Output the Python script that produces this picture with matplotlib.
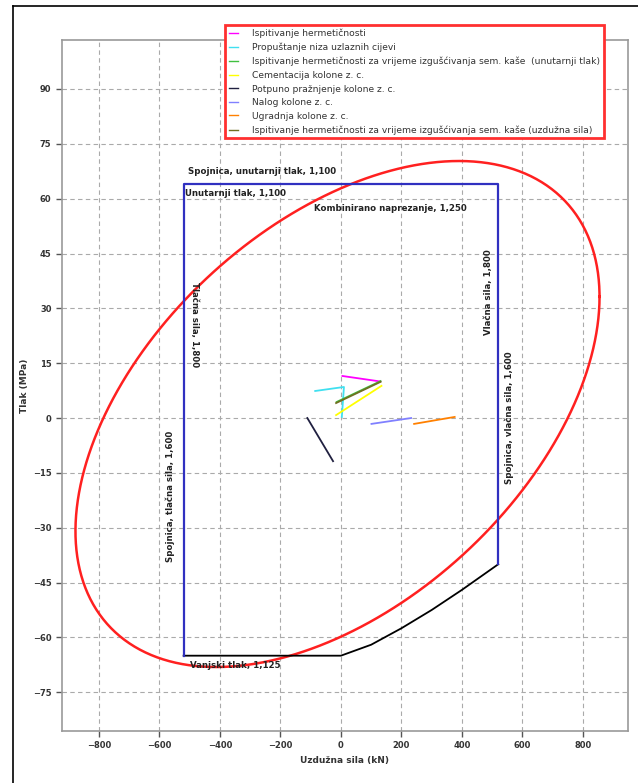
import numpy as np
import matplotlib
matplotlib.use("Agg")
import matplotlib.pyplot as plt
from matplotlib.lines import Line2D

# ---- data ----
x_ticks = [-800, -600, -400, -200, 0, 200, 400, 600, 800]
y_ticks = [90, 75, 60, 45, 30, 15, 0, -15, -30, -45, -60, -75]

# design rectangle (blue): axial force limits & pressure limits
rect_x = [-520, -520, 520, 520]
rect_y = [-65, 64, 64, -40]

# connection line (black)
conn_x = [-520, 0, 100, 200, 300, 400, 520]
conn_y = [-65, -65, -62, -57.5, -52.5, -47, -40]

# von Mises ellipse parameters (fitted to points)
ell_cx, ell_cy = -11.3, 1.1
ell_X, ell_Y = 866.2, 69.2
ell_phi_deg = 62.4

# load cases
legend_labels = [
    "Ispitivanje hermetičnosti",
    "Propuštanje niza uzlaznih cijevi",
    "Ispitivanje hermetičnosti za vrijeme izgušćivanja sem. kaše  (unutarnji tlak)",
    "Cementacija kolone z. c.",
    "Potpuno pražnjenje kolone z. c.",
    "Nalog kolone z. c.",
    "Ugradnja kolone z. c.",
    "Ispitivanje hermetičnosti za vrijeme izgušćivanja sem. kaše (uzdužna sila)",
]
legend_colors = ["#ff00ff", "#40e0f0", "#40c040", "#ffff00", "#202040",
                 "#8080ff", "#ff8000", "#707020"]

lc_x = [
    [5, 130],            # magenta
    [-85, 10, 3],        # cyan
    [-14, 131],          # green
    [-16, 134],          # yellow
    [-111, -26],         # dark
    [101, 232],          # violet
    [242, 376],          # orange
    [-16, 131],          # olive
]
lc_y = [
    [11.5, 10],
    [7.4, 8.5, 0.3],
    [4.4, 10.1],
    [0.8, 8.8],
    [0, -11.8],
    [-1.6, 0],
    [-1.6, 0.3],
    [4.1, 9.9],
]

fig = plt.figure(figsize=(6.38, 7.83), dpi=100)
ax = fig.add_axes([62/638, 1-731/783, (628-62)/638, (731-40)/783])
ax.set_xlim(-922, 949)
ax.set_ylim(-85.6, 103.4)

ax.grid(True, linestyle=(0, (4, 3)), color="#aaaaaa", linewidth=0.8)
for s in ax.spines.values():
    s.set_color("#999999")
    s.set_linewidth(1.2)
ax.tick_params(colors="#555555", length=4, width=1, labelsize=6)
ax.set_xticks(x_ticks)
ax.set_yticks(y_ticks)
for lab in ax.get_xticklabels() + ax.get_yticklabels():
    lab.set_fontweight("bold")
    lab.set_color("#333333")
ax.set_xlabel("Uzdužna sila (kN)", fontsize=6.5, fontweight="bold", color="#333333")
ax.set_ylabel("Tlak (MPa)", fontsize=6.5, fontweight="bold", color="#333333", labelpad=3)

# ellipse
t = np.linspace(0, 2*np.pi, 400)
phi = np.deg2rad(ell_phi_deg)
ex = ell_cx + ell_X*np.cos(t)
ey = ell_cy + ell_Y*np.cos(t + phi)
ax.plot(ex, ey, color="#ff2020", lw=1.8, zorder=3)

# connection and rectangle
ax.plot(conn_x, conn_y, color="black", lw=1.3, zorder=3)
ax.plot(rect_x, rect_y, color="#3030c0", lw=1.6, zorder=4)

# load-case lines
for xs, ys, c in zip(lc_x, lc_y, legend_colors):
    ax.plot(xs, ys, color=c, lw=1.3, zorder=5)

# annotations
tk = dict(fontsize=6.2, fontweight="bold", color="#222222")
ax.text(-505, 67.5, "Spojnica, unutarnji tlak, 1,100", va="center", **tk)
ax.text(-515, 61.5, "Unutarnji tlak, 1,100", va="center", **tk)
ax.text(-90, 57.2, "Kombinirano naprezanje, 1,250", va="center", **tk)
ax.text(-485, 25.5, "Tlačna sila, 1,800", rotation=-90, ha="center", va="center", **tk)
ax.text(-565, -21.5, "Spojnica, tlačna sila, 1,600", rotation=90, ha="center", va="center", **tk)
ax.text(487, 34.5, "Vlačna sila, 1,800", rotation=90, ha="center", va="center", **tk)
ax.text(555, 0, "Spojnica, vlačna sila, 1,600", rotation=90, ha="center", va="center", **tk)
ax.text(-500, -67.8, "Vanjski tlak, 1,125", va="center", **tk)

# legend
handles = [Line2D([0], [0], color=c, lw=1) for c in legend_colors]
leg = fig.legend(handles, legend_labels, loc="upper left",
                 bbox_to_anchor=(225/638, 1-25/783), borderaxespad=0,
                 fontsize=6.6, handlelength=1.0, handletextpad=1.6,
                 labelspacing=0.5, borderpad=0.4, fancybox=False, framealpha=1)
leg.get_frame().set_edgecolor("#ff3030")
leg.get_frame().set_linewidth(2)
for txt in leg.get_texts():
    txt.set_color("#333333")

# figure frame
fig.add_artist(Line2D([13/638, 13/638], [0, 1-6/783], color="black", lw=1.2,
                      transform=fig.transFigure))
fig.add_artist(Line2D([13/638, 1], [1-6/783, 1-6/783], color="black", lw=1.2,
                      transform=fig.transFigure))

fig.savefig("out.png", dpi=100)
